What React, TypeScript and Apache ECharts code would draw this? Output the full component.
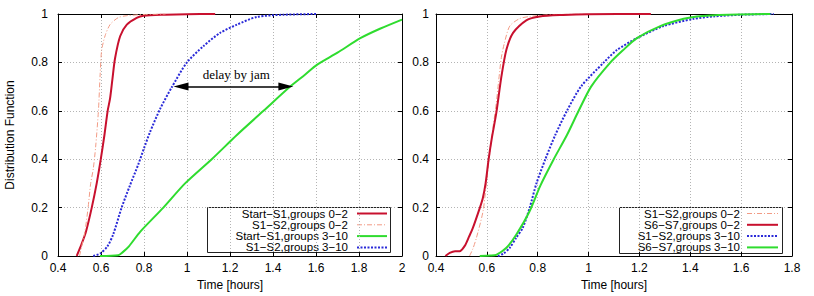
import React, { useEffect, useRef } from "react";
import * as echarts from "echarts";

// ---------- data (x = time in hours, y = distribution function) ----------
const xTicksLeft = { min: 0.4, max: 2, interval: 0.2 };
const xTicksRight = { min: 0.4, max: 1.8, interval: 0.2 };
const yTicks = { min: 0, max: 1, interval: 0.2 };

// left panel
const leftStartS1Groups02 = [
  [0.487, 0], [0.51, 0.05], [0.53, 0.1], [0.557, 0.2], [0.58, 0.3], [0.599, 0.4],
  [0.616, 0.5], [0.631, 0.6], [0.642, 0.65], [0.653, 0.73], [0.665, 0.815], [0.689, 0.908],
  [0.72, 0.956], [0.766, 0.984], [0.797, 0.993], [0.9, 0.997], [1.0, 0.999], [1.131, 1.0],
];
const leftS1S2Groups02 = [
  [0.5, 0], [0.525, 0.1], [0.54, 0.2], [0.552, 0.3], [0.564, 0.36], [0.575, 0.45],
  [0.588, 0.6], [0.596, 0.75], [0.603, 0.85], [0.619, 0.91], [0.642, 0.956],
  [0.68, 0.985], [0.72, 0.993], [0.8, 0.998], [0.9, 1.0],
];
const leftStartS1Groups310 = [
  [0.595, 0], [0.68, 0.003], [0.7, 0.015], [0.73, 0.04], [0.782, 0.1], [0.89, 0.2],
  [0.991, 0.3], [1.115, 0.4], [1.232, 0.5], [1.356, 0.6], [1.48, 0.7], [1.55, 0.75],
  [1.604, 0.79], [1.7, 0.84], [1.806, 0.9], [1.9, 0.94], [2.0, 0.977],
];
const leftS1S2Groups310 = [
  [0.564, 0], [0.596, 0.01], [0.63, 0.04], [0.657, 0.09], [0.696, 0.2], [0.734, 0.29],
  [0.774, 0.38], [0.8, 0.445], [0.828, 0.512], [0.875, 0.608], [0.929, 0.697],
  [0.999, 0.799], [1.076, 0.867], [1.154, 0.922], [1.232, 0.956], [1.325, 0.988],
  [1.45, 0.997], [1.6, 1.0],
];

// right panel
const rightS1S2Groups02 = [
  [0.532, 0], [0.545, 0.03], [0.559, 0.075], [0.585, 0.185], [0.598, 0.3], [0.611, 0.42],
  [0.624, 0.53], [0.637, 0.63], [0.646, 0.72], [0.657, 0.82], [0.669, 0.88], [0.69, 0.95],
  [0.729, 0.981], [0.771, 0.99], [0.863, 0.998], [1.0, 1.0],
];
const rightS6S7Groups02 = [
  [0.437, 0], [0.454, 0.013], [0.475, 0.02], [0.493, 0.02], [0.513, 0.042], [0.53, 0.08],
  [0.545, 0.116], [0.572, 0.198], [0.584, 0.239], [0.595, 0.3], [0.607, 0.4], [0.62, 0.49],
  [0.637, 0.59], [0.657, 0.74], [0.677, 0.853], [0.703, 0.922], [0.755, 0.974],
  [0.808, 0.99], [0.9, 0.996], [1.0, 0.999], [1.245, 1.0],
];
const rightS1S2Groups310 = [
  [0.643, 0], [0.665, 0.01], [0.69, 0.034], [0.715, 0.075], [0.741, 0.116], [0.768, 0.198],
  [0.795, 0.3], [0.83, 0.4], [0.869, 0.5], [0.915, 0.6], [0.97, 0.7], [1.06, 0.8],
  [1.11, 0.85], [1.19, 0.9], [1.295, 0.95], [1.413, 0.98], [1.492, 0.99], [1.6, 0.997], [1.728, 1.0],
];
const rightS6S7Groups310 = [
  [0.572, 0], [0.614, 0.002], [0.637, 0.005], [0.677, 0.034], [0.716, 0.089], [0.768, 0.185],
  [0.81, 0.29], [0.863, 0.4], [0.915, 0.5], [0.961, 0.6], [1.01, 0.7], [1.086, 0.8],
  [1.135, 0.85], [1.19, 0.9], [1.282, 0.95], [1.374, 0.98], [1.426, 0.99], [1.55, 0.997], [1.715, 1.0],
];

// annotation: delay by jam arrow (y = 0.7) and its label
const jamArrowFrom = [0.972, 0.7];
const jamArrowTo = [1.46, 0.7];
const jamLabelPos = [1.229, 0.752];
const jamLabel = "delay by jam";

// ---------- styles ----------
const STYLE = {
  red: { color: "#c8102e", width: 2, type: "solid" as any },
  light: { color: "#f29b85", width: 1, type: [5, 2, 1, 2] as any },
  green: { color: "#2fdc2f", width: 2, type: "solid" as any },
  blue: { color: "#2a2ad8", width: 2, type: [2, 1.5] as any },
};

const FONT = "Liberation Sans, Arial, sans-serif";

const leftDefs = [
  { name: "Start−S1,groups 0−2", data: leftStartS1Groups02, st: STYLE.red },
  { name: "S1−S2,groups 0−2", data: leftS1S2Groups02, st: STYLE.light },
  { name: "Start−S1,groups 3−10", data: leftStartS1Groups310, st: STYLE.green },
  { name: "S1−S2,groups 3−10", data: leftS1S2Groups310, st: STYLE.blue },
];
const rightDefs = [
  { name: "S1−S2,groups 0−2", data: rightS1S2Groups02, st: STYLE.light },
  { name: "S6−S7,groups 0−2", data: rightS6S7Groups02, st: STYLE.red },
  { name: "S1−S2,groups 3−10", data: rightS1S2Groups310, st: STYLE.blue },
  { name: "S6−S7,groups 3−10", data: rightS6S7Groups310, st: STYLE.green },
];

const fmt = (v: number) => String(parseFloat(v.toFixed(1)));

function xAxes(gridIndex: number, t: { min: number; max: number; interval: number }) {
  const base = {
    type: "value",
    gridIndex,
    min: t.min,
    max: t.max,
    interval: t.interval,
    axisLine: { show: true, onZero: false, lineStyle: { color: "#000", width: 1 } },
    axisTick: { show: true, inside: true, length: 4, lineStyle: { color: "#000" } },
  };
  return [
    {
      ...base,
      position: "bottom",
      name: "Time [hours]",
      nameLocation: "middle",
      nameGap: 23,
      nameTextStyle: { fontFamily: FONT, fontSize: 12, color: "#000" },
      axisLabel: { fontFamily: FONT, fontSize: 12, color: "#000", margin: 6, formatter: fmt, showMinLabel: true, showMaxLabel: true },
      splitLine: { show: true, lineStyle: { color: "#b4b4b4", width: 1, type: [1, 2] } },
    },
    { ...base, position: "top", axisLabel: { show: false }, splitLine: { show: false } },
  ];
}

function yAxes(gridIndex: number, margin: number, withName: boolean) {
  const base = {
    type: "value",
    gridIndex,
    min: yTicks.min,
    max: yTicks.max,
    interval: yTicks.interval,
    axisLine: { show: true, onZero: false, lineStyle: { color: "#000", width: 1 } },
    axisTick: { show: true, inside: true, length: 4, lineStyle: { color: "#000" } },
  };
  return [
    {
      ...base,
      position: "left",
      name: withName ? "Distribution Function" : "",
      nameLocation: "middle",
      nameGap: 42,
      nameTextStyle: { fontFamily: FONT, fontSize: 12, color: "#000" },
      axisLabel: { fontFamily: FONT, fontSize: 12, color: "#000", margin, formatter: fmt },
      splitLine: { show: true, lineStyle: { color: "#b4b4b4", width: 1, type: [1, 2] } },
    },
    { ...base, position: "right", axisLabel: { show: false }, splitLine: { show: false } },
  ];
}

function legendGraphic(
  defs: typeof leftDefs,
  box: { x: number; y: number; w: number; h: number },
  textRight: number,
  lineX1: number,
  lineX2: number,
  rowY0: number,
  rowStep: number
) {
  const children: any[] = [
    {
      type: "rect",
      shape: { x: box.x, y: box.y, width: box.w, height: box.h },
      style: { fill: "#fff", stroke: "#222", lineWidth: 1 },
    },
  ];
  defs.forEach((d, i) => {
    const y = rowY0 + i * rowStep;
    children.push({
      type: "text",
      x: textRight,
      y,
      style: {
        text: d.name,
        fill: "#000",
        fontFamily: FONT,
        fontSize: 11.5,
        lineHeight: 11,
        align: "right",
        verticalAlign: "middle",
      },
    });
    children.push({
      type: "line",
      shape: { x1: lineX1, y1: y, x2: lineX2, y2: y },
      style: {
        stroke: d.st.color,
        lineWidth: d.st.width,
        lineDash: Array.isArray(d.st.type) ? d.st.type : null,
      },
    });
  });
  return { type: "group", z: 100, children };
}

export default function App() {
  const ref = useRef<HTMLDivElement>(null);
  useEffect(() => {
    document.body.style.margin = "0";
    if (!ref.current) return;
    const chart = echarts.init(ref.current, undefined, { renderer: "svg" });

    const mkSeries = (defs: typeof leftDefs, axisIndex: number) =>
      defs.map((d) => ({
        type: "line",
        name: d.name,
        xAxisIndex: axisIndex,
        yAxisIndex: axisIndex,
        data: d.data,
        showSymbol: false,
        symbol: "none",
        smooth: 0.25,
        clip: true,
        lineStyle: { color: d.st.color, width: d.st.width, type: d.st.type },
        itemStyle: { color: d.st.color },
        z: 3,
      }));

    const leftSeries: any[] = mkSeries(leftDefs, 0);
    leftSeries.push({
      type: "line",
      xAxisIndex: 0,
      yAxisIndex: 0,
      data: [],
      markLine: {
        silent: true,
        symbol: ["triangle", "triangle"],
        symbolSize: [8, 15],
        lineStyle: { color: "#000", width: 1.5, type: "solid" },
        label: { show: false },
        data: [[{ coord: jamArrowFrom }, { coord: jamArrowTo }]],
      },
      markPoint: {
        silent: true,
        symbol: "circle",
        symbolSize: 0,
        label: {
          show: true,
          position: "inside",
          formatter: jamLabel,
          fontFamily: "Liberation Serif, Times New Roman, serif",
          fontSize: 13,
          color: "#000",
        },
        data: [{ coord: jamLabelPos }],
      },
    });

    chart.setOption({
      animation: false,
      backgroundColor: "#fff",
      grid: [
        { left: 58, top: 14, width: 344, height: 244 },
        { left: 436, top: 14, width: 356, height: 244 },
      ],
      xAxis: [...xAxes(0, xTicksLeft), ...xAxes(1, xTicksRight)],
      yAxis: [...yAxes(0, 10, true), ...yAxes(1, 7, false)],
      series: [...leftSeries, ...mkSeries(rightDefs, 2)],
      graphic: [
        legendGraphic(leftDefs, { x: 207.5, y: 207.5, w: 183, h: 45 }, 348, 357, 387, 213.5, 11.3),
        legendGraphic(rightDefs, { x: 619.5, y: 207.5, w: 163, h: 46 }, 740, 747, 778, 213.5, 11.3),
      ],
    });
    return () => chart.dispose();
  }, []);
  return <div ref={ref} style={{ width: 814, height: 296 }} />;
}
